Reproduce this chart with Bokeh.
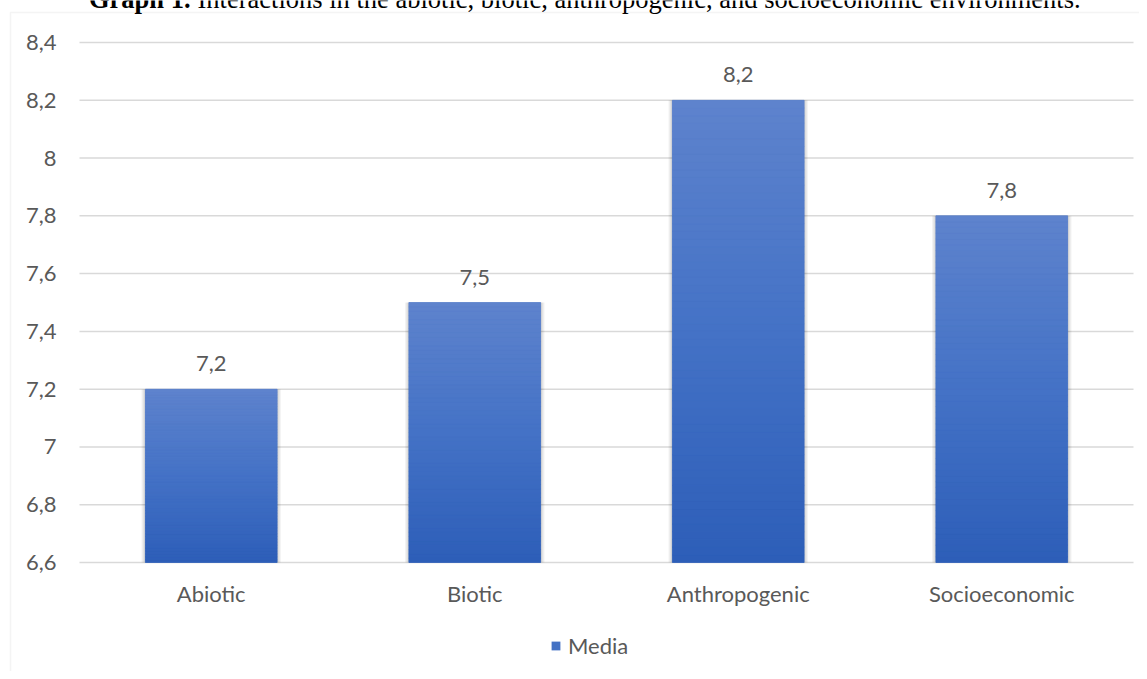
from bokeh.plotting import figure
from bokeh.models import (Range1d, FixedTicker, CustomJSTickFormatter,
                          ColumnDataSource, LabelSet, Label, BoxAnnotation, Legend, LegendItem)
from bokeh.embed import file_html
from bokeh.resources import INLINE
from bokeh.core.properties import value

# ---------------- data ----------------
categories = ["Abiotic", "Biotic", "Anthropogenic", "Socioeconomic"]
media = [7.2, 7.5, 8.2, 7.8]
bar_labels = ["7,2", "7,5", "8,2", "7,8"]
series_name = "Media"
y_ticks = [6.6, 6.8, 7, 7.2, 7.4, 7.6, 7.8, 8, 8.2, 8.4]
y_tick_labels = ["6,6", "6,8", "7", "7,2", "7,4", "7,6", "7,8", "8", "8,2", "8,4"]
y_min, y_max = 6.6, 8.4
title_bold = "Graph 1."
title_rest = "Interactions in the abiotic, biotic, anthropogenic, and socioeconomic environments."

FONT = "Lato"
TXT = "#595959"
FS = "22px"

# category slots on a numeric scale (slot i is centred on i + 0.5)
positions = [i + 0.5 for i in range(len(categories))]

# ---------------- layout (pixels) ----------------
W, H = 1139, 671
PLOT_LEFT, PLOT_RIGHT = 79, 1133         # pixel columns of the category area
PLOT_TOP, PLOT_BOTTOM = 42, 562          # pixel rows of y_max and y_min
ppx = (PLOT_RIGHT - PLOT_LEFT) / len(categories)
x_start = -PLOT_LEFT / ppx
x_end = (W - PLOT_LEFT) / ppx
ppu = (PLOT_BOTTOM - PLOT_TOP) / (y_max - y_min)
y_start = y_min - (H - PLOT_BOTTOM) / ppu
y_end = y_max + PLOT_TOP / ppu

p = figure(x_range=Range1d(x_start, x_end), y_range=Range1d(y_start, y_end),
           width=W, height=H, output_backend="svg", toolbar_location=None,
           min_border_left=0, min_border_right=0, min_border_top=0, min_border_bottom=0)
p.outline_line_color = None
p.background_fill_color = "white"
p.border_fill_color = "white"

# x axis (categories), drawn at y_min
p.xaxis.fixed_location = y_min
p.xaxis.ticker = FixedTicker(ticks=positions)
p.xaxis.formatter = CustomJSTickFormatter(
    args=dict(pos=positions, cats=categories),
    code="""
    for (let i = 0; i < pos.length; i++) {
        if (Math.abs(pos[i] - tick) < 1e-9) return cats[i];
    }
    return "";
    """)
p.xaxis.axis_line_color = None
p.xaxis.major_tick_line_color = None
p.xaxis.minor_tick_line_color = None
p.xaxis.major_label_text_font = FONT
p.xaxis.major_label_text_font_size = FS
p.xaxis.major_label_text_color = TXT
p.xaxis.major_label_standoff = 11

# y axis, drawn at the left edge of the category area
ticker = FixedTicker(ticks=y_ticks)
p.yaxis.fixed_location = 0
p.yaxis.ticker = ticker
p.yaxis.formatter = CustomJSTickFormatter(
    args=dict(tvals=y_ticks, tlabs=y_tick_labels),
    code="""
    for (let i = 0; i < tvals.length; i++) {
        if (Math.abs(tvals[i] - tick) < 1e-9) return tlabs[i];
    }
    return "";
    """)
p.yaxis.axis_line_color = None
p.yaxis.major_tick_line_color = None
p.yaxis.minor_tick_line_color = None
p.yaxis.major_label_text_font = FONT
p.yaxis.major_label_text_font_size = FS
p.yaxis.major_label_text_color = TXT
p.yaxis.major_label_standoff = 17

p.xgrid.grid_line_color = None
p.ygrid.grid_line_color = None

# horizontal gridlines across the category area
p.segment(x0=0, x1=len(categories), y0=y_ticks, y1=y_ticks,
          line_color="#d9d9d9", line_width=1.5)

# chart border (Excel chart area)
p.add_layout(BoxAnnotation(left=10, right=W + 50, top=H - 12, bottom=-50,
                           left_units="screen", right_units="screen",
                           top_units="screen", bottom_units="screen",
                           fill_alpha=0, line_color="#d9d9d9", line_width=1.5))

# soft shadow behind bars
for k in range(1, 5):
    p.vbar(x=positions, top=media, bottom=y_min, width=0.5 + 0.0075 * k,
           fill_color="black", fill_alpha=0.045, line_color=None)

# base bars (legend)
base = p.vbar(x=positions, top=media, bottom=y_min, width=0.5,
              fill_color="#4472c4", line_color=None)

# vertical gradient drawn as thin slices of each bar
top_c = (94, 131, 205)
mid_c = (68, 114, 198)
bot_c = (45, 94, 184)


def grad(s):
    if s < 0.5:
        a, b, t = top_c, mid_c, s * 2
    else:
        a, b, t = mid_c, bot_c, (s - 0.5) * 2
    return "#%02x%02x%02x" % tuple(int(round(a[j] + (b[j] - a[j]) * t)) for j in range(3))


N = 60
gx, gb, gt, gc = [], [], [], []
for xpos, v in zip(positions, media):
    for i in range(N):
        gx.append(xpos)
        gb.append(y_min + (v - y_min) * i / N)
        gt.append(y_min + (v - y_min) * (i + 1) / N)
        gc.append(grad(1 - (i + 0.5) / N))
gsrc = ColumnDataSource(dict(x=gx, bottom=gb, top=gt, color=gc))
p.vbar(x="x", top="top", bottom="bottom", width=0.5, source=gsrc,
       fill_color="color", line_color="color", line_width=0.6)

# value labels
lsrc = ColumnDataSource(dict(x=positions, y=media, t=bar_labels))
p.add_layout(LabelSet(x="x", y="y", text="t", source=lsrc, y_offset=18,
                      text_align="center", text_baseline="alphabetic",
                      text_font=value(FONT), text_font_size=value(FS),
                      text_color=value(TXT)))

# title (cut at the top, as in the reference)
p.add_layout(Label(x=190, y=H + 2, x_units="screen", y_units="screen", text=title_bold,
                   text_align="right", text_baseline="alphabetic",
                   text_font="Liberation Serif", text_font_style="bold",
                   text_font_size="26.5px", text_color="black"))
p.add_layout(Label(x=197, y=H + 2, x_units="screen", y_units="screen", text=title_rest,
                   text_align="left", text_baseline="alphabetic",
                   text_font="Liberation Serif", text_font_size="26.5px", text_color="black"))

# legend
legend = Legend(items=[LegendItem(label=series_name, renderers=[base])],
                location=(550, 12), orientation="horizontal",
                glyph_width=11, glyph_height=11, label_standoff=7,
                label_text_font=FONT, label_text_font_size=FS, label_text_color=TXT,
                border_line_color=None, background_fill_alpha=0,
                padding=0, margin=0, label_height=21)
p.add_layout(legend, "center")

open("out.html", "w").write(file_html(p, INLINE))
